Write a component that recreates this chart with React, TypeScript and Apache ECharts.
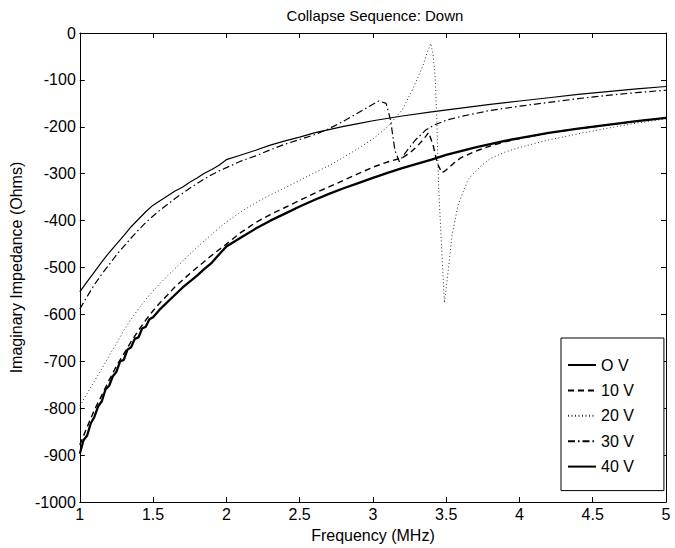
import React, { useEffect, useRef } from "react";
import * as echarts from "echarts";

const FONT = "'Liberation Sans', Arial, Helvetica, sans-serif";

const chartTitle = "Collapse Sequence: Down";
const xAxisName = "Frequency (MHz)";
const yAxisName = "Imaginary Impedance (Ohms)";
const seriesNames = ["O V", "10 V", "20 V", "30 V", "40 V"];

// 0 V
const freq0 = [1.0, 1.05, 1.1, 1.15, 1.2, 1.25, 1.3, 1.35, 1.4, 1.45, 1.5, 1.55, 1.6, 1.65, 1.7, 1.75, 1.8, 1.85, 1.9, 1.95, 2.0, 2.1, 2.2, 2.3, 2.4, 2.5, 2.6, 2.7, 2.8, 2.9, 3.0, 3.2, 3.4, 3.6, 3.8, 4.0, 4.2, 4.4, 4.6, 4.8, 5.0];
const imp0 = [-552, -530, -509, -488, -468, -450, -432, -413, -397, -381, -367, -357, -347, -337, -329, -318, -309, -299, -291, -282, -270, -260, -250, -239, -230, -222, -213, -206, -199, -193, -187, -177, -168, -160, -152, -145, -138, -131, -125, -119, -114];

// 10 V
const freq10 = [1.0, 1.05, 1.1, 1.15, 1.2, 1.25, 1.3, 1.35, 1.4, 1.45, 1.5, 1.55, 1.6, 1.65, 1.7, 1.75, 1.8, 1.85, 1.9, 1.95, 2.0, 2.1, 2.2, 2.3, 2.4, 2.5, 2.6, 2.7, 2.8, 2.9, 3.0, 3.1, 3.2, 3.25, 3.3, 3.35, 3.38, 3.41, 3.44, 3.47, 3.5, 3.55, 3.6, 3.7, 3.8, 3.9, 4.0, 4.2, 4.4, 4.6, 4.8, 5.0];
const imp10 = [-878, -840, -803, -772, -740, -710, -684, -658, -634, -612, -592, -574, -558, -541, -527, -513, -500, -487, -474, -462, -450, -425, -404, -387, -372, -357, -342, -328, -314, -300, -286, -275, -266, -256, -242, -225, -212, -238, -278, -298, -292, -278, -266, -252, -241, -232, -225, -213, -204, -196, -188, -181];

// 20 V
const freq20 = [1.0, 1.05, 1.1, 1.15, 1.2, 1.25, 1.3, 1.35, 1.4, 1.45, 1.5, 1.55, 1.6, 1.65, 1.7, 1.75, 1.8, 1.85, 1.9, 1.95, 2.0, 2.1, 2.2, 2.3, 2.4, 2.5, 2.6, 2.7, 2.8, 2.9, 3.0, 3.1, 3.2, 3.27, 3.34, 3.37, 3.395, 3.41, 3.425, 3.436, 3.448, 3.47, 3.488, 3.5, 3.516, 3.54, 3.58, 3.61, 3.65, 3.7, 3.75, 3.8, 3.9, 4.0, 4.2, 4.4, 4.6, 4.8, 5.0];
const imp20 = [-795, -768, -742, -716, -688, -662, -634, -610, -588, -568, -550, -533, -517, -502, -487, -471, -457, -443, -429, -416, -403, -381, -362, -345, -330, -314, -298, -283, -265, -246, -226, -200, -164, -121, -71, -42, -22, -45, -95, -185, -325, -465, -575, -545, -500, -431, -368, -343, -312, -295, -280, -268, -254, -244, -228, -215, -203, -192, -183];

// 30 V
const freq30 = [1.0, 1.05, 1.1, 1.15, 1.2, 1.25, 1.3, 1.35, 1.4, 1.45, 1.5, 1.55, 1.6, 1.65, 1.7, 1.75, 1.8, 1.85, 1.9, 1.95, 2.0, 2.1, 2.2, 2.3, 2.4, 2.5, 2.6, 2.7, 2.8, 2.9, 3.0, 3.04, 3.09, 3.12, 3.15, 3.18, 3.22, 3.29, 3.36, 3.42, 3.5, 3.6, 3.8, 4.0, 4.2, 4.4, 4.6, 4.8, 5.0];
const imp30 = [-588, -562, -536, -514, -494, -473, -455, -437, -420, -404, -390, -377, -365, -353, -342, -331, -321, -311, -302, -294, -287, -273, -262, -249, -237, -227, -217, -204, -188, -170, -152, -145, -150, -185, -250, -274, -256, -228, -207, -196, -186, -178, -165, -156, -148, -140, -133, -127, -122];

// 40 V
const freq40 = [1.0, 1.025, 1.05, 1.075, 1.1, 1.125, 1.15, 1.175, 1.2, 1.225, 1.25, 1.275, 1.3, 1.325, 1.35, 1.375, 1.4, 1.425, 1.45, 1.475, 1.5, 1.55, 1.6, 1.65, 1.7, 1.75, 1.8, 1.85, 1.9, 1.95, 2.0, 2.1, 2.2, 2.3, 2.4, 2.5, 2.6, 2.7, 2.8, 2.9, 3.0, 3.1, 3.2, 3.3, 3.4, 3.5, 3.6, 3.7, 3.8, 3.9, 4.0, 4.2, 4.4, 4.6, 4.8, 5.0];
const imp40 = [-897, -868, -858, -832, -818, -796, -785, -760, -752, -732, -722, -700, -697, -675, -670, -652, -649, -630, -626, -610, -606, -588, -573, -558, -543, -530, -517, -503, -490, -472, -455, -436, -417, -400, -385, -370, -356, -343, -331, -320, -309, -298, -288, -279, -270, -260, -252, -244, -237, -230, -224, -213, -204, -196, -188, -181];

const zip = (f: number[], v: number[]) => f.map((x, i) => [x, v[i]]);

export default function App() {
  const ref = useRef<HTMLDivElement>(null);

  useEffect(() => {
    const chart = echarts.init(ref.current!, null, { renderer: "svg" });

    const axisLine = { show: true, onZero: false, lineStyle: { color: "#000", width: 1 } };
    const axisTick = { show: true, inside: true, length: 5, lineStyle: { color: "#000", width: 1 } };
    const labelStyle = { fontSize: 16, color: "#000", fontFamily: FONT };
    const plain = (v: number) => String(v);

    const lineSeries = (name: string, data: number[][], width: number, type: any, color = "#000") => ({
      name,
      type: "line",
      data,
      symbol: "none",
      showSymbol: false,
      smooth: false,
      lineStyle: { color, width, type },
      itemStyle: { color },
      xAxisIndex: 0,
      yAxisIndex: 0,
      z: 3,
    });

    chart.setOption({
      animation: false,
      backgroundColor: "#fff",
      title: {
        text: chartTitle,
        left: 370,
        textAlign: "center",
        top: 3,
        textStyle: { fontSize: 15, fontWeight: "normal", color: "#000", fontFamily: FONT },
      },
      grid: { left: 73, right: 9, top: 33, bottom: 41, containLabel: false },
      legend: {
        orient: "vertical",
        left: 561,
        top: 338,
        data: seriesNames,
        itemWidth: 28,
        itemHeight: 14,
        itemGap: 9.4,
        padding: [19, 30, 16, 6],
        borderColor: "#000",
        borderWidth: 1,
        backgroundColor: "#fff",
        selectedMode: false,
        itemStyle: { opacity: 0, borderWidth: 0 },
        textStyle: { fontSize: 16, color: "#000", fontFamily: FONT },
      },
      xAxis: [
        {
          type: "value",
          min: 1,
          max: 5,
          interval: 0.5,
          position: "bottom",
          name: xAxisName,
          nameLocation: "middle",
          nameGap: 23,
          nameTextStyle: labelStyle,
          axisLine,
          axisTick,
          axisLabel: { ...labelStyle, margin: 4, formatter: plain },
          splitLine: { show: false },
        },
        {
          type: "value",
          min: 1,
          max: 5,
          interval: 0.5,
          position: "top",
          axisLine,
          axisTick,
          axisLabel: { show: false },
          splitLine: { show: false },
        },
      ],
      yAxis: [
        {
          type: "value",
          min: -1000,
          max: 0,
          interval: 100,
          position: "left",
          name: yAxisName,
          nameLocation: "middle",
          nameGap: 51,
          nameRotate: 90,
          nameTextStyle: labelStyle,
          axisLine,
          axisTick,
          axisLabel: { ...labelStyle, margin: 4, formatter: plain },
          splitLine: { show: false },
        },
        {
          type: "value",
          min: -1000,
          max: 0,
          interval: 100,
          position: "right",
          axisLine,
          axisTick,
          axisLabel: { show: false },
          splitLine: { show: false },
        },
      ],
      series: [
        lineSeries(seriesNames[0], zip(freq0, imp0), 1.2, "solid"),
        lineSeries(seriesNames[1], zip(freq10, imp10), 1.4, [6, 4]),
        lineSeries(seriesNames[2], zip(freq20, imp20), 1, [1, 2.5], "#333"),
        lineSeries(seriesNames[3], zip(freq30, imp30), 1.2, [7, 3, 1.5, 3]),
        lineSeries(seriesNames[4], zip(freq40, imp40), 2.3, "solid"),
      ],
    });

    return () => chart.dispose();
  }, []);

  return (
    <div
      ref={ref}
      style={{ position: "absolute", left: 0, top: 0, width: 675, height: 548 }}
    />
  );
}
